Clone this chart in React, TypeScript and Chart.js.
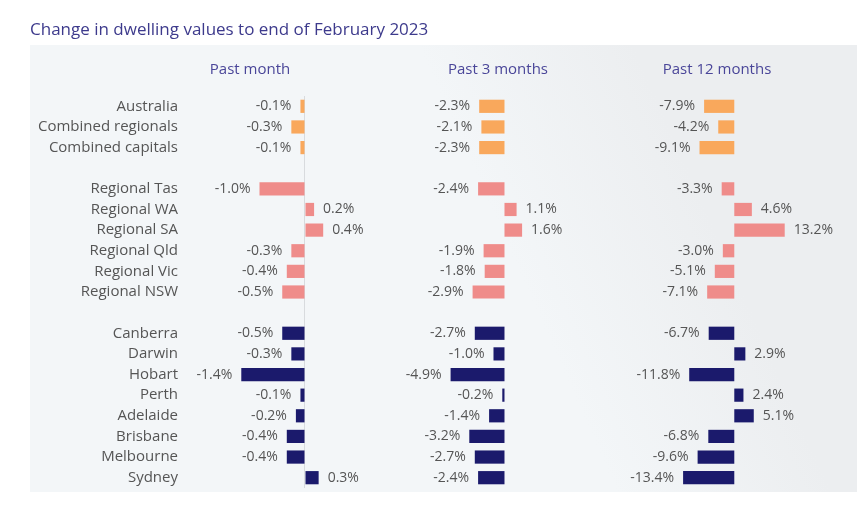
import { useEffect, useRef } from 'react';
import { Chart, registerables } from 'chart.js';

Chart.register(...registerables);

const TITLE = 'Change in dwelling values to end of February 2023';
const PERIODS = ['Past month', 'Past 3 months', 'Past 12 months'];
const REGIONS = [
  'Australia', 'Combined regionals', 'Combined capitals', '',
  'Regional Tas', 'Regional WA', 'Regional SA', 'Regional Qld', 'Regional Vic', 'Regional NSW', '',
  'Canberra', 'Darwin', 'Hobart', 'Perth', 'Adelaide', 'Brisbane', 'Melbourne', 'Sydney',
];
const GROUPS = [
  'national', 'national', 'national', null,
  'regional', 'regional', 'regional', 'regional', 'regional', 'regional', null,
  'capital', 'capital', 'capital', 'capital', 'capital', 'capital', 'capital', 'capital',
];
const PAST_MONTH = [-0.1, -0.3, -0.1, null, -1.0, 0.2, 0.4, -0.3, -0.4, -0.5, null, -0.5, -0.3, -1.4, -0.1, -0.2, -0.4, -0.4, 0.3];
const PAST_3_MONTHS = [-2.3, -2.1, -2.3, null, -2.4, 1.1, 1.6, -1.9, -1.8, -2.9, null, -2.7, -1.0, -4.9, -0.2, -1.4, -3.2, -2.7, -2.4];
const PAST_12_MONTHS = [-7.9, -4.2, -9.1, null, -3.3, 4.6, 13.2, -3.0, -5.1, -7.1, null, -6.7, 2.9, -11.8, 2.4, 5.1, -6.8, -9.6, -13.4];

const GROUP_COLORS: Record<string, string> = {
  national: '#f9a85c',
  regional: '#ef8c8a',
  capital: '#1b1a6c',
};

const FONT = '"Open Sans", "DejaVu Sans", sans-serif';

const panelBackground = {
  id: 'panelBackground',
  beforeDraw(chart: any) {
    const ctx = chart.ctx;
    ctx.save();
    const g = ctx.createLinearGradient(540, 320, 720, 240);
    g.addColorStop(0, '#f3f6f8');
    g.addColorStop(1, '#eceef0');
    ctx.fillStyle = g;
    ctx.fillRect(30, 45, 827, 447);
    ctx.restore();
  },
};

const valueLabels = {
  id: 'valueLabels',
  afterDatasetsDraw(chart: any) {
    const ctx = chart.ctx;
    ctx.save();
    ctx.font = `14px ${FONT}`;
    ctx.fillStyle = '#555555';
    ctx.textBaseline = 'middle';
    chart.data.datasets.forEach((ds: any, i: number) => {
      const meta = chart.getDatasetMeta(i);
      meta.data.forEach((el: any, j: number) => {
        const v = ds.data[j];
        if (v === null || v === undefined) return;
        const txt = v.toFixed(1) + '%';
        if (v < 0) {
          ctx.textAlign = 'right';
          ctx.fillText(txt, el.x - 9, el.y);
        } else {
          ctx.textAlign = 'left';
          ctx.fillText(txt, el.x + 9, el.y);
        }
      });
    });
    ctx.restore();
  },
};

const colors = GROUPS.map((g) => (g ? GROUP_COLORS[g] : 'transparent'));

function xAxis(title: string, min: number, max: number, weight: number, zeroLine: boolean) {
  return {
    type: 'linear',
    position: 'top',
    stack: 'panels',
    stackWeight: weight,
    min,
    max,
    ticks: { display: false },
    afterBuildTicks: (axis: any) => {
      axis.ticks = [{ value: 0 }];
    },
    grid: {
      display: zeroLine,
      drawTicks: false,
      color: '#d8dbde',
      lineWidth: 1,
    },
    border: { display: false },
    title: {
      display: title !== '',
      text: title,
      color: '#4a4699',
      font: { family: FONT, size: 15, weight: '500' },
      padding: { top: 17, bottom: 17 },
    },
  };
}

export default function App() {
  const ref = useRef<HTMLCanvasElement | null>(null);

  useEffect(() => {
    if (!ref.current) return;
    const series = [PAST_MONTH, PAST_3_MONTHS, PAST_12_MONTHS];
    const chart = new Chart(ref.current, {
      type: 'bar',
      data: {
        labels: REGIONS,
        datasets: series.map((data, i) => ({
          label: PERIODS[i],
          data,
          xAxisID: 'x' + (i + 1),
          yAxisID: 'y',
          backgroundColor: colors,
          borderWidth: 0,
          grouped: false,
          barPercentage: 0.64,
          categoryPercentage: 1,
          clip: false,
        })),
      } as any,
      options: {
        animation: false,
        responsive: false,
        indexAxis: 'y',
        layout: { padding: { left: 30, right: 86, top: 10, bottom: 24 } },
        plugins: {
          legend: { display: false },
          tooltip: { enabled: false },
          title: {
            display: true,
            text: TITLE,
            align: 'start',
            color: '#3d3a8c',
            font: { family: FONT, size: 17, weight: '500' },
            padding: { top: 10, bottom: 3.6 },
          },
        },
        scales: {
          // top axes are laid out in reverse order of definition
          x3: xAxis(PERIODS[2], -21.54, 12.49, 130, false),
          x2: xAxis(PERIODS[1], -14.59, 13.41, 308, false),
          gap: xAxis('', 0, 1, 29, false),
          x1: xAxis(PERIODS[0], -2.637, 0.22, 130, true),
          y: {
            type: 'category',
            position: 'left',
            grid: { display: false, drawTicks: false },
            border: { display: false },
            ticks: {
              color: '#555555',
              font: { family: FONT, size: 15 },
              padding: 7,
              autoSkip: false,
            },
            afterFit: (scale: any) => {
              scale.width = 155;
            },
          },
        },
      } as any,
      plugins: [panelBackground, valueLabels],
    });
    return () => chart.destroy();
  }, []);

  return (
    <div style={{ position: 'fixed', left: 0, top: 0, width: 868, height: 512, background: '#ffffff' }}>
      <canvas ref={ref} width={868} height={512} />
    </div>
  );
}
